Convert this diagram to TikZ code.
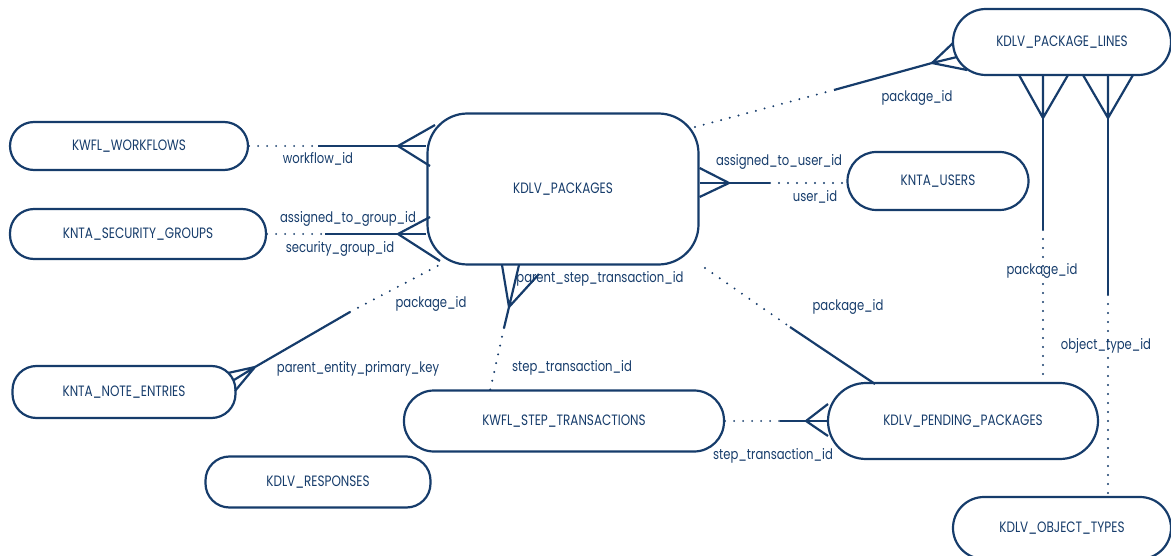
\documentclass[tikz,border=0pt]{standalone}
\usepackage{fontspec}
\setmainfont{Poppins}[FakeStretch=0.8]
\usepackage{tikz}
\usetikzlibrary{calc}
\definecolor{navy}{HTML}{163C6B}
\tikzset{
  ent/.style={draw=navy, line width=2.2pt, fill=white, text=navy,
              rounded corners=24pt, align=center, inner sep=0pt,
              font=\fontsize{15}{18}\selectfont},
  rel/.style={draw=navy, line width=2.2pt},
  opt/.style={draw=navy, line width=2.2pt, line cap=round,
              dash pattern=on 0pt off 9pt},
  lbl/.style={text=navy, inner sep=0pt, font=\fontsize{14.5}{17}\selectfont},
}

\begin{document}
\begin{tikzpicture}[x=1pt, y=-1pt]
  \useasboundingbox (0,0) rectangle (1171,556);

  % entities
  \node[ent, minimum width=238pt, minimum height=48pt] (wf) at (129,146) {KWFL\_WORKFLOWS};
  \node[ent, minimum width=256pt, minimum height=50pt] (sg) at (138,234) {KNTA\_SECURITY\_GROUPS};
  \node[ent, minimum width=223pt, minimum height=52pt] (ne) at (124,392) {KNTA\_NOTE\_ENTRIES};
  \node[ent, minimum width=225pt, minimum height=51pt] (rsp) at (318,482) {KDLV\_RESPONSES};
  \node[ent, minimum width=271pt, minimum height=151pt, rounded corners=40pt]
    (pk) at (563,189) {KDLV\_PACKAGES};
  \node[ent, minimum width=181pt, minimum height=58pt, rounded corners=29pt]
    (us) at (938,181) {KNTA\_USERS};
  \node[ent, minimum width=218pt, minimum height=66pt, rounded corners=33pt]
    (pl) at (1062,42) {KDLV\_PACKAGE\_LINES};
  \node[ent, minimum width=320pt, minimum height=61pt, rounded corners=30pt]
    (st) at (564,421) {KWFL\_STEP\_TRANSACTIONS};
  \node[ent, minimum width=270pt, minimum height=76pt, rounded corners=38pt]
    (pp) at (963,421) {KDLV\_PENDING\_PACKAGES};
  \node[ent, minimum width=218pt, minimum height=62pt, rounded corners=31pt]
    (ot) at (1062,528) {KDLV\_OBJECT\_TYPES};

  % workflows -- packages
  \coordinate (wfM) at (318,146);
  \coordinate (wfT) at (398,146);
  \draw[opt] (wf.east) -- (wfM);
  \draw[rel] (wfM) -- (pk.west|-wf.east);
  \draw[rel] (wfT) -- ++(37,-21) (wfT) -- ++(32,20);

  % security groups -- packages
  \coordinate (sgM) at (325,234);
  \coordinate (sgT) at (398,234);
  \draw[opt] (sg.east) -- (sgM);
  \draw[rel] (sgM) -- (pk.west|-sg.east);
  \draw[rel] (sgT) -- ++(32,-17) (sgT) -- ++(42,27);

  % note entries -- packages
  \coordinate (neT) at (255,367);
  \coordinate (neM) at (350,312);
  \draw[rel] (neT) -- (neM);
  \draw[opt] (neM) -- (445,262);
  \draw[rel] (neT) -- (228,373) (neT) -- (234,380) (neT) -- (235,391);

  % step transactions -- packages
  \coordinate (stT) at (509,307);
  \coordinate (stM) at (504,328);
  \draw[rel] (stT) -- (stM);
  \draw[opt] (stM) -- (490,391);
  \draw[rel] (stT) -- (502,265) (stT) -- (519,265) (stT) -- (539,274);

  % packages -- pending packages
  \coordinate (ppM) at (790,327);
  \draw[opt] (705,268) -- (ppM);
  \draw[rel] (ppM) -- (875,384);

  % step transactions -- pending packages
  \coordinate (spM) at (780,421);
  \coordinate (spT) at (806,421);
  \draw[opt] (st.east) -- (spM);
  \draw[rel] (spM) -- (pp.west);
  \draw[rel] (spT) -- ++(22,-17) (spT) -- ++(22,15);

  % packages -- users
  \coordinate (usT) at (729,183);
  \coordinate (usM) at (770,183);
  \draw[opt] (usM) -- (us.west|-usM);
  \draw[rel] (pk.east|-usM) -- (usM);
  \draw[rel] (usT) -- (pk.east|-0,168) (usT) -- (pk.east|-0,197);

  % packages -- package lines
  \coordinate (plM) at (834,90);
  \coordinate (plT) at (932,63);
  \draw[opt] (695,127) -- (plM);
  \draw[rel] (plM) -- (plT);
  \draw[rel] (plT) -- (953,43) (plT) -- (957,57) (plT) -- (967,70);

  % package lines -- pending packages
  \coordinate (lpT) at (1043,118);
  \coordinate (lpM) at (1043,230);
  \draw[rel] (lpT) -- (lpM);
  \draw[opt] (lpM) -- (lpM|-pp.north);
  \draw[rel] (lpT) -- (lpT|-pl.south) (lpT) -- (1019,75) (lpT) -- (1068,75);

  % package lines -- object types
  \coordinate (loT) at (1108,118);
  \coordinate (loM) at (1108,295);
  \draw[rel] (loT) -- (loM);
  \draw[opt] (loM) -- (loM|-ot.north);
  \draw[rel] (loT) -- (loT|-pl.south) (loT) -- (1083,75) (loT) -- (1133,75);

  % labels
  \node[lbl] (l1) at (318,159) {workflow\_id};
  \node[lbl] (l2) at (348,219) {assigned\_to\_group\_id};
  \node[lbl] (l3) at (340,249) {security\_group\_id};
  \node[lbl] (l4) at (431,304) {package\_id};
  \node[lbl] (l5) at (358,369) {parent\_entity\_primary\_key};
  \node[lbl] (l6) at (600,279) {parent\_step\_transaction\_id};
  \node[lbl] (l7) at (572,368) {step\_transaction\_id};
  \node[lbl] (l8) at (848,307) {package\_id};
  \node[lbl] (l9) at (773,456) {step\_transaction\_id};
  \node[lbl] (l10) at (779,162) {assigned\_to\_user\_id};
  \node[lbl] (l11) at (815,197) {user\_id};
  \node[lbl] (l12) at (917,98) {package\_id};
  \node[lbl] (l13) at (1042,271) {package\_id};
  \node[lbl] (l14) at (1106,346) {object\_type\_id};
\end{tikzpicture}
\end{document}
